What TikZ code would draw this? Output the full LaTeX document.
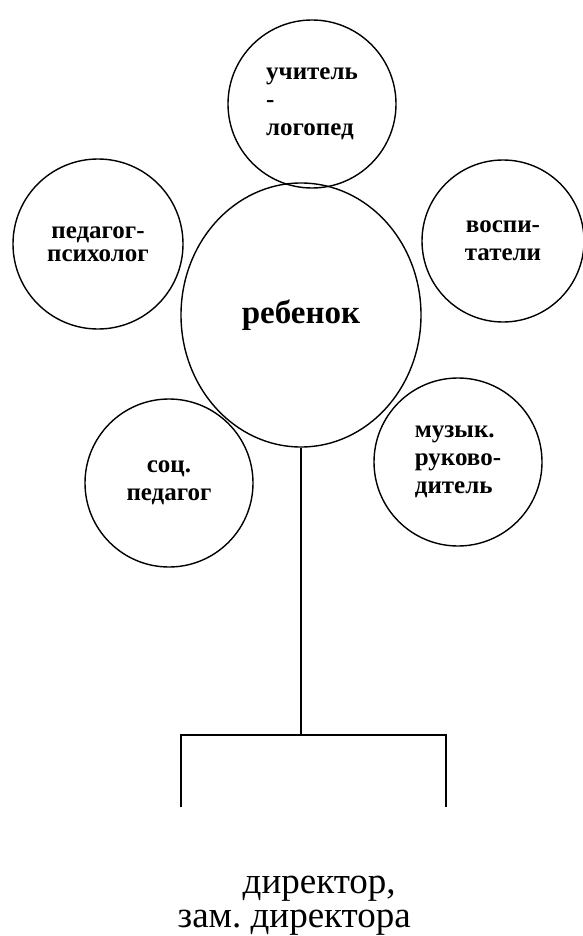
\documentclass[tikz,border=0pt]{standalone}
\usepackage{fontspec}
\setmainfont{Liberation Serif}
\newfontfamily\timesfont{Liberation Serif}
\usetikzlibrary{shapes.geometric}

\tikzstyle{role circle}=[draw, ellipse, line width=1.4pt, inner sep=0pt, minimum width=#1, minimum height=#1, font=\timesfont\fontsize{25}{28}\selectfont\bfseries, align=center]

\begin{document}
\begin{tikzpicture}[x=1pt, y=-1pt, line width=1.4pt]
		\useasboundingbox (0,0) rectangle (582,936);

		\node [role circle=240pt, minimum height=264pt, font=\timesfont\fontsize{33}{38}\selectfont\bfseries] (child) at (301,315) {ребенок};
		\node [role circle=168pt, align=left] (logoped) at (312,104) {учитель\\-\\логопед};
		\node [role circle=170pt, font=\timesfont\fontsize{25}{23}\selectfont\bfseries] (psych) at (98,244) {педагог-\\психолог};
		\node [role circle=162pt] (vosp) at (503,241) {воспи-\\татели};
		\node [role circle=168pt] (socped) at (169,483) {соц.\\педагог};
		\node [role circle=168pt, align=left] (muz) at (458,462) {музык.\\руково-\\дитель};

		\coordinate (fork) at (301,735);
		\coordinate (left end) at (181,807);
		\coordinate (right end) at (446,807);
		\draw (child.south) -- (fork);
		\draw (left end) |- (fork) -| (right end);

		\node [font=\timesfont\fontsize{37}{34}\selectfont, align=left, anchor=base west, inner sep=0pt] (director) at (177,927) {\hspace{65pt}директор,\\зам.\ директора};
	\end{tikzpicture}
\end{document}
